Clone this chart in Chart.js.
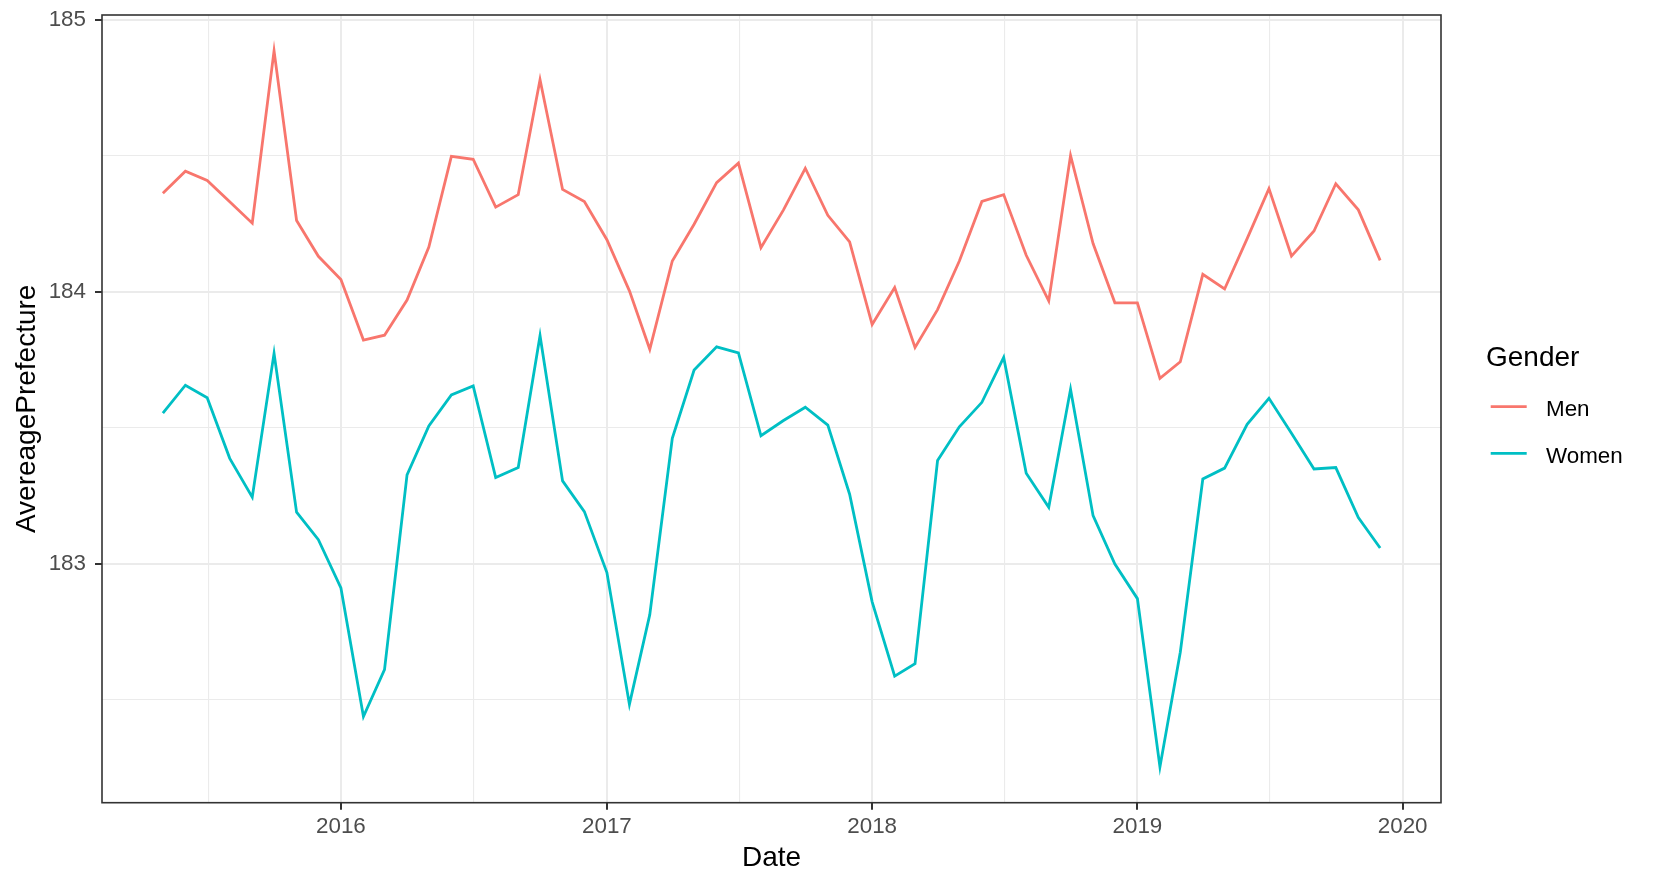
<!DOCTYPE html>
<html><head><meta charset="utf-8">
<script src="https://cdn.jsdelivr.net/npm/chart.js@4.4.1/dist/chart.umd.min.js"></script>
<style>html,body{margin:0;padding:0;background:#fff;}canvas{display:block;}</style>
</head><body>
<canvas id="c" width="1656" height="888"></canvas>
<script>
const months = ['2015-05','2015-06','2015-07','2015-08','2015-09','2015-10','2015-11','2015-12',
  '2016-01','2016-02','2016-03','2016-04','2016-05','2016-06','2016-07','2016-08','2016-09','2016-10','2016-11','2016-12',
  '2017-01','2017-02','2017-03','2017-04','2017-05','2017-06','2017-07','2017-08','2017-09','2017-10','2017-11','2017-12',
  '2018-01','2018-02','2018-03','2018-04','2018-05','2018-06','2018-07','2018-08','2018-09','2018-10','2018-11','2018-12',
  '2019-01','2019-02','2019-03','2019-04','2019-05','2019-06','2019-07','2019-08','2019-09','2019-10','2019-11','2019-12'];
const men = [184.363,184.444,184.410,184.332,184.253,184.887,184.263,184.131,
  184.046,183.823,183.841,183.970,184.165,184.499,184.488,184.312,184.358,184.781,184.377,184.333,
  184.192,184.004,183.789,184.114,184.249,184.402,184.474,184.163,184.302,184.455,184.282,184.184,
  183.880,184.016,183.796,183.935,184.114,184.333,184.358,184.135,183.967,184.502,184.178,183.960,
  183.960,183.682,183.743,184.065,184.011,184.196,184.380,184.132,184.224,184.398,184.302,184.116];
const women = [183.554,183.657,183.611,183.388,183.245,183.774,183.190,183.089,
  182.911,182.438,182.611,183.327,183.507,183.621,183.654,183.317,183.354,183.839,183.305,183.192,
  182.968,182.483,182.813,183.462,183.713,183.798,183.776,183.471,183.527,183.576,183.510,183.256,
  182.860,182.587,182.633,183.380,183.504,183.594,183.759,183.333,183.208,183.642,183.177,182.999,
  182.872,182.253,182.675,183.312,183.352,183.513,183.609,183.480,183.349,183.354,183.170,183.058];
const seriesNames = ['Men','Women'];
const seriesColors = ['#F8766D','#00BFC4'];
const xTickLabels = ['2016','2017','2018','2019','2020'];
const yTickValues = [183,184,185];
const legendTitle = 'Gender';
const xTitle = 'Date';
const yTitle = 'AvereagePrefecture';

const FONT = '"Liberation Sans", Arial, Helvetica, sans-serif';
Chart.defaults.font.family = FONT;

const toMs = s => { const p = s.split('-').map(Number); return Date.UTC(p[0], p[1]-1, 1); };
const xs = months.map(toMs);
const xSpan = xs[xs.length-1] - xs[0];
const xMin = xs[0] - 0.05*xSpan, xMax = xs[xs.length-1] + 0.05*xSpan;
const allY = men.concat(women);
const yLo = Math.min(...allY), yHi = Math.max(...allY), ySpan = yHi - yLo;
const yMin = yLo - 0.05*ySpan, yMax = yHi + 0.05*ySpan;

const xMajor = xTickLabels.map(l => Date.UTC(+l, 0, 1));
const xExt = [Date.UTC(+xTickLabels[0]-1,0,1), ...xMajor, Date.UTC(+xTickLabels[xTickLabels.length-1]+1,0,1)];
const xMinor = [];
for (let i=0;i<xExt.length-1;i++){ const m=(xExt[i]+xExt[i+1])/2; if(m>xMin&&m<xMax) xMinor.push(m); }
const yExt = [yTickValues[0]-1, ...yTickValues, yTickValues[yTickValues.length-1]+1];
const yMinor = [];
for (let i=0;i<yExt.length-1;i++){ const m=(yExt[i]+yExt[i+1])/2; if(m>yMin&&m<yMax) yMinor.push(m); }

function buildTicks(major, minor){
  return major.map(v=>({value:v,isMaj:true})).concat(minor.map(v=>({value:v,isMaj:false})))
    .sort((a,b)=>a.value-b.value);
}
const gridOpts = {
  color: '#EBEBEB',
  lineWidth: c => (c.tick && c.tick.isMaj) ? 2 : 1.1,
  tickColor: c => (c.tick && c.tick.isMaj) ? '#333333' : 'rgba(0,0,0,0)',
  tickWidth: 2,
  tickLength: 7,
  drawTicks: true
};

const frame = {
  id: 'frame',
  afterDatasetsDraw(chart){
    const {ctx, chartArea:a} = chart;
    ctx.save();
    ctx.strokeStyle = '#333333'; ctx.lineWidth = 1.6;
    ctx.strokeRect(a.left, a.top, a.right-a.left, a.bottom-a.top);
    ctx.restore();
  },
  afterDraw(chart){
    const ctx = chart.ctx;
    ctx.save();
    ctx.fillStyle = '#000'; ctx.textAlign='left'; ctx.textBaseline='alphabetic';
    ctx.font = '28px ' + FONT;
    ctx.fillText(legendTitle, 1486, 366);
    const ys = [406.7, 453.3];
    chart.data.datasets.forEach((ds,i)=>{
      ctx.strokeStyle = ds.borderColor; ctx.lineWidth = 2.8;
      ctx.beginPath(); ctx.moveTo(1490.7, ys[i]); ctx.lineTo(1526.7, ys[i]); ctx.stroke();
      ctx.fillStyle = '#000'; ctx.font = '22.4px ' + FONT;
      ctx.fillText(ds.label, 1546, ys[i]+9.3);
    });
    ctx.restore();
  }
};

new Chart(document.getElementById('c'), {
  type: 'line',
  data: {
    datasets: [men, women].map((vals,i)=>({
      label: seriesNames[i],
      data: vals.map((v,j)=>({x: xs[j], y: v})),
      borderColor: seriesColors[i],
      backgroundColor: seriesColors[i],
      borderWidth: 2.8,
      pointRadius: 0,
      tension: 0,
      fill: false
    }))
  },
  options: {
    responsive: false,
    animation: false,
    layout: { padding: { left: 0, top: 15, right: 215, bottom: 0 } },
    plugins: { legend: { display: false }, tooltip: { enabled: false } },
    scales: {
      x: {
        type: 'linear', min: xMin, max: xMax,
        afterBuildTicks: s => { s.ticks = buildTicks(xMajor, xMinor); },
        afterFit: s => { s.height = 85.3; s.paddingLeft = 0; s.paddingRight = 0; },
        ticks: {
          autoSkip: false, maxRotation: 0, padding: 4,
          color: '#4D4D4D', font: { size: 22.4 },
          callback: (v, i, t) => t[i].isMaj ? String(new Date(v).getUTCFullYear()) : ''
        },
        grid: gridOpts,
        border: { display: false },
        title: { display: true, text: xTitle, color: '#000', font: { size: 28 }, padding: { top: 0, bottom: 12.9 } }
      },
      y: {
        type: 'linear', min: yMin, max: yMax,
        afterBuildTicks: s => { s.ticks = buildTicks(yTickValues, yMinor); },
        afterFit: s => { s.width = 102; s.paddingTop = 0; s.paddingBottom = 0; },
        ticks: {
          autoSkip: false, padding: 9,
          color: '#4D4D4D', font: { size: 22.4 },
          callback: (v, i, t) => t[i].isMaj ? String(v) : ''
        },
        grid: gridOpts,
        border: { display: false },
        title: { display: true, text: yTitle, color: '#000', font: { size: 28 }, padding: { top: 10, bottom: 0 } }
      }
    }
  },
  plugins: [frame]
});
</script>
</body></html>
